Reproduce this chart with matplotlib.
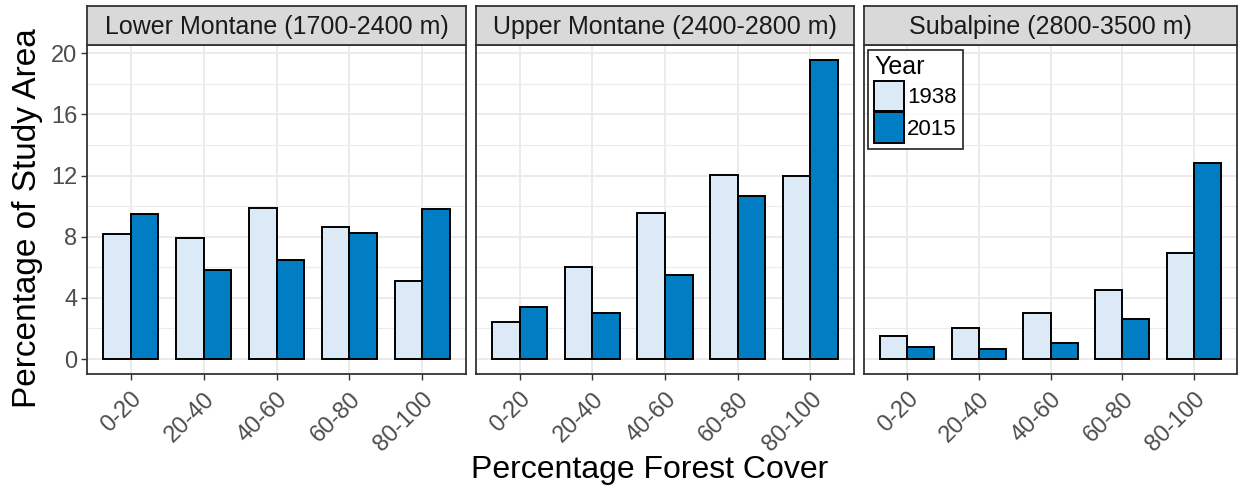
import matplotlib
matplotlib.use("Agg")
import matplotlib.pyplot as plt
from matplotlib.patches import Patch
import numpy as np

plt.rcParams['font.family'] = ['Liberation Sans', 'DejaVu Sans']

# datos
cover_classes = ["0-20", "20-40", "40-60", "60-80", "80-100"]
zones = ["Lower Montane (1700-2400 m)", "Upper Montane (2400-2800 m)", "Subalpine (2800-3500 m)"]
years = ["1938", "2015"]
lower_1938 = [8.2, 7.9, 9.9, 8.65, 5.1]
lower_2015 = [9.5, 5.8, 6.5, 8.25, 9.8]
upper_1938 = [2.45, 6.05, 9.55, 12.05, 12.0]
upper_2015 = [3.4, 3.0, 5.5, 10.65, 19.55]
subalp_1938 = [1.5, 2.0, 3.0, 4.5, 6.95]
subalp_2015 = [0.8, 0.65, 1.05, 2.6, 12.8]

values = {
    zones[0]: (lower_1938, lower_2015),
    zones[1]: (upper_1938, upper_2015),
    zones[2]: (subalp_1938, subalp_2015),
}
colors = ["#DCEAF8", "#007DC3"]
grid_col = "#EBEBEB"
border_col = "#333333"
text_col = "#4D4D4D"

W, H = 1239, 490
fig = plt.figure(figsize=(W / 100, H / 100), dpi=100)

# posiciones de los paneles en pixeles (izq, der)
panels_px = [(87, 466), (476, 854), (864, 1237)]
top_px, bottom_px, strip_top = 45, 374, 6

x = np.arange(1, len(cover_classes) + 1)
bw = 0.38
ymin, ymax = -0.98, 20.54

axes = []
for i, (zone, (l, r)) in enumerate(zip(zones, panels_px)):
    ax = fig.add_axes([l / W, 1 - bottom_px / H, (r - l) / W, (bottom_px - top_px) / H])
    axes.append(ax)
    v38, v15 = values[zone]
    ax.bar(x - bw / 2, v38, width=bw, color=colors[0], edgecolor="black", linewidth=1.4, zorder=3)
    ax.bar(x + bw / 2, v15, width=bw, color=colors[1], edgecolor="black", linewidth=1.4, zorder=3)
    ax.set_xlim(0.4, 5.6)
    ax.set_ylim(ymin, ymax)
    ax.set_xticks(x)
    ax.set_xticklabels(cover_classes, rotation=45, ha="right", va="top",
                       rotation_mode="anchor", fontsize=17, color=text_col)
    ax.set_yticks([0, 4, 8, 12, 16, 20])
    ax.set_yticks([2, 6, 10, 14, 18], minor=True)
    ax.grid(True, which="major", color=grid_col, linewidth=1.4, zorder=0)
    ax.grid(True, which="minor", axis="y", color=grid_col, linewidth=0.8, zorder=0)
    ax.tick_params(axis="both", which="major", length=4, width=1, color=border_col, pad=3)
    ax.tick_params(axis="x", pad=6)
    ax.tick_params(axis="y", which="minor", length=0)
    if i == 0:
        ax.tick_params(axis="y", labelsize=17, labelcolor=text_col)
    else:
        ax.tick_params(axis="y", length=0, labelleft=False)
    for s in ax.spines.values():
        s.set_color(border_col)
        s.set_linewidth(1.3)

    # franja del titulo
    sax = fig.add_axes([l / W, 1 - top_px / H, (r - l) / W, (top_px - strip_top) / H])
    sax.set_facecolor("#D9D9D9")
    sax.set_xticks([])
    sax.set_yticks([])
    for s in sax.spines.values():
        s.set_color(border_col)
        s.set_linewidth(1.3)
    sax.text(0.5, 0.47, zone, ha="center", va="center", fontsize=18, color="#1A1A1A",
             transform=sax.transAxes)

handles = [Patch(facecolor=c, edgecolor="black", linewidth=1.4, label=y) for c, y in zip(colors, years)]
leg = axes[2].legend(handles=handles, title="Year", loc="upper left", bbox_to_anchor=(0.012, 0.985),
                     fontsize=16, title_fontsize=18, frameon=True, fancybox=False,
                     handlelength=1.35, handleheight=1.75, handletextpad=0.15,
                     labelspacing=0.05, borderpad=0.25, borderaxespad=0)
leg.get_frame().set_edgecolor("black")
leg.get_frame().set_linewidth(1.3)
leg._legend_box.align = "left"

fig.text(28 / W, 1 - 218 / H, "Percentage of Study Area", rotation=90, ha="center", va="center",
         fontsize=24)
fig.text(650 / W, 1 - 470 / H, "Percentage Forest Cover", ha="center", va="center", fontsize=23)

fig.savefig("out.png", dpi=100)
